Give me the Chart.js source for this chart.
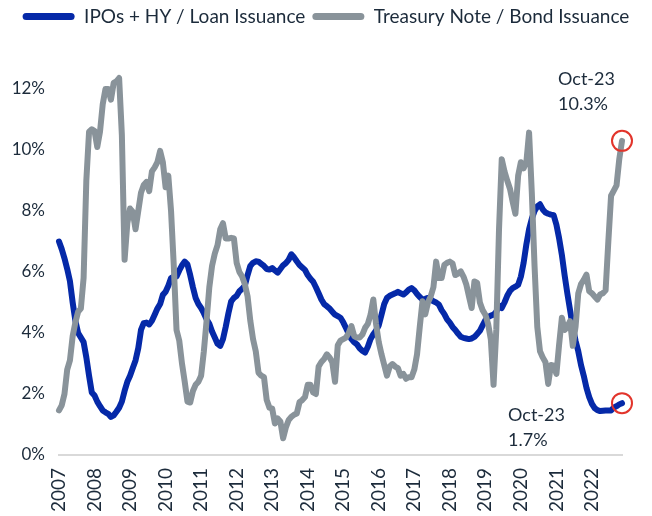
<!DOCTYPE html>
<html>
<head>
<meta charset="utf-8">
<title>Issuance</title>
<script src="https://cdn.jsdelivr.net/npm/chart.js@4.4.0/dist/chart.umd.min.js"></script>
<style>
  html, body { margin: 0; padding: 0; background: #fff; }
  #wrap { width: 652px; height: 516px; }
</style>
</head>
<body>
<div id="wrap"><canvas id="chart" width="652" height="516"></canvas></div>
<script>
// Year labels shown on the x axis (one every 13 points, as in the source chart)
const yearLabels = ['2007', '2008', '2009', '2010', '2011', '2012', '2013', '2014',
  '2015', '2016', '2017', '2018', '2019', '2020', '2021', '2022'];
const labelEvery = 13;

// IPOs + HY / Loan Issuance (%)
const ipoHy = [
  7.0, 6.75, 6.45, 6.1, 5.7, 5.0, 4.4, 4.0, 3.85, 3.7,
  3.2, 2.6, 2.05, 1.95, 1.75, 1.6, 1.46, 1.4, 1.35, 1.25,
  1.3, 1.42, 1.55, 1.75, 2.1, 2.4, 2.6, 2.85, 3.1, 3.5,
  4.1, 4.32, 4.34, 4.28, 4.4, 4.6, 4.8, 4.95, 5.25, 5.35,
  5.55, 5.8, 5.85, 5.85, 6.05, 6.22, 6.34, 6.25, 5.9, 5.5,
  5.15, 4.95, 4.82, 4.65, 4.45, 4.3, 4.05, 3.85, 3.65, 3.58,
  3.8, 4.2, 4.65, 5.04, 5.15, 5.22, 5.37, 5.45, 5.55, 5.9,
  6.2, 6.3, 6.35, 6.34, 6.27, 6.2, 6.1, 6.08, 6.13, 6.05,
  5.98, 6.1, 6.22, 6.29, 6.4, 6.58, 6.48, 6.35, 6.23, 6.15,
  6.07, 5.9, 5.78, 5.68, 5.5, 5.3, 5.1, 4.95, 4.88, 4.8,
  4.7, 4.6, 4.55, 4.5, 4.35, 4.17, 3.98, 3.8, 3.7, 3.63,
  3.5, 3.42, 3.36, 3.55, 3.8, 3.96, 4.08, 4.25, 4.6, 4.95,
  5.15, 5.22, 5.26, 5.3, 5.35, 5.3, 5.26, 5.33, 5.42, 5.47,
  5.4, 5.28, 5.18, 5.1, 5.12, 5.15, 5.1, 5.04, 5.0, 4.93,
  4.75, 4.62, 4.45, 4.34, 4.2, 4.1, 3.98, 3.88, 3.84, 3.82,
  3.8, 3.82, 3.87, 3.97, 4.07, 4.25, 4.42, 4.52, 4.57, 4.6,
  4.7, 4.9, 4.82, 5.0, 5.22, 5.38, 5.47, 5.52, 5.58, 5.85,
  6.3, 6.9, 7.4, 7.75, 8.0, 8.15, 8.22, 8.05, 7.95, 7.91,
  7.88, 7.86, 7.55, 7.1, 6.56, 5.9, 5.3, 4.75, 4.2, 3.75,
  3.4, 2.95, 2.6, 2.2, 1.9, 1.68, 1.54, 1.47, 1.44, 1.45,
  1.46, 1.46, 1.46, 1.55, 1.6, 1.66, 1.7
];

// Treasury Note / Bond Issuance (%)
const treasury = [
  1.46, 1.63, 2.0, 2.8, 3.1, 3.9, 4.35, 4.7, 4.8, 5.8,
  9.0, 10.6, 10.68, 10.62, 10.1, 10.6, 11.5, 12.0, 12.0, 11.65,
  12.2, 12.25, 12.36, 10.5, 6.4, 7.6, 8.08, 7.97, 7.4, 8.0,
  8.6, 8.85, 8.95, 8.65, 9.3, 9.43, 9.6, 9.97, 9.6, 8.78,
  9.16, 8.0, 6.2, 4.1, 3.75, 3.0, 2.4, 1.75, 1.72, 2.1,
  2.3, 2.4, 2.6, 3.4, 4.4, 5.5, 6.2, 6.6, 6.88, 7.4,
  7.6, 7.1, 7.1, 7.12, 7.1, 6.3, 6.0, 5.85, 5.6, 5.2,
  4.4, 3.8, 3.4, 2.7, 2.6, 2.55, 1.8, 1.55, 1.52, 1.03,
  1.2, 1.1, 0.55, 0.9, 1.14, 1.25, 1.32, 1.36, 1.73, 1.8,
  1.9, 2.3, 2.3, 2.05, 2.0, 2.9, 3.05, 3.15, 3.3, 3.2,
  3.04, 2.4, 3.6, 3.75, 3.8, 3.85, 4.0, 4.23, 3.9, 3.85,
  3.85, 3.95, 4.17, 4.3, 4.6, 5.1, 4.3, 3.7, 3.3, 2.95,
  2.6, 2.9, 2.98, 2.9, 2.85, 2.6, 2.66, 2.5, 2.55, 2.55,
  2.8, 3.3, 4.2, 5.04, 4.61, 5.0, 5.2, 5.5, 6.34, 5.8,
  5.8, 6.23, 6.3, 6.34, 6.28, 5.9, 5.95, 6.02, 5.85, 5.6,
  5.2, 4.82, 5.69, 5.64, 5.0, 4.75, 4.6, 4.3, 3.8, 2.3,
  4.1, 7.4, 9.7, 9.3, 9.0, 8.73, 8.3, 7.91, 9.16, 9.6,
  9.4, 9.6, 10.57, 8.6, 6.2, 4.2, 3.4, 3.2, 3.04, 2.33,
  2.95, 2.93, 2.66, 3.63, 4.5, 4.1, 4.2, 4.39, 3.58, 4.2,
  5.3, 5.6, 5.74, 5.91, 5.37, 5.3, 5.2, 5.1, 5.26, 5.3,
  5.4, 7.0, 8.5, 8.67, 8.84, 9.7, 10.3
];

const lastLabel = 'Oct-23';

const FONT = 'Lato, "Open Sans", sans-serif';
const TEXT = '#1c2b3b';
const BLUE = '#0529a8';
const GREY = '#89939a';
const RED = '#e2342b';

const xLabels = ipoHy.map((v, i) => i);
const lastIdx = ipoHy.length - 1;

// red ring only on the latest point
const ringRadius = (ctx) => ctx.dataIndex === lastIdx ? 10 : 0;

// push the plot area down below the legend
const legendSpace = {
  id: 'legendSpace',
  beforeInit(chart) {
    const origFit = chart.legend.fit;
    chart.legend.fit = function () {
      origFit.bind(chart.legend)();
      this.height += 53;
    };
  }
};

// "Oct-23 / value" callouts next to the last points
const callouts = {
  id: 'callouts',
  afterDatasetsDraw(chart) {
    const c = chart.ctx;
    c.save();
    c.font = '18px ' + FONT;
    c.fillStyle = TEXT;
    c.textAlign = 'left';
    c.textBaseline = 'middle';
    const tPt = chart.getDatasetMeta(1).data[lastIdx];
    const bPt = chart.getDatasetMeta(0).data[lastIdx];
    const tVal = treasury[lastIdx].toFixed(1) + '%';
    const bVal = ipoHy[lastIdx].toFixed(1) + '%';
    c.fillText(lastLabel, tPt.x - 64, tPt.y - 62);
    c.fillText(tVal, tPt.x - 64, tPt.y - 37);
    c.fillText(lastLabel, bPt.x - 114, bPt.y + 12);
    c.fillText(bVal, bPt.x - 114, bPt.y + 37);
    c.restore();
  }
};

new Chart(document.getElementById('chart'), {
  type: 'line',
  data: {
    labels: xLabels,
    datasets: [{
      label: 'IPOs + HY / Loan Issuance',
      data: ipoHy,
      borderColor: BLUE,
      backgroundColor: BLUE,
      borderWidth: 6,
      order: 1,
      tension: 0,
      clip: false,
      borderJoinStyle: 'round',
      borderCapStyle: 'round',
      pointRadius: ringRadius,
      pointBorderColor: RED,
      pointBackgroundColor: 'rgba(0,0,0,0)',
      pointBorderWidth: 2
    }, {
      label: 'Treasury Note / Bond Issuance',
      data: treasury,
      borderColor: GREY,
      backgroundColor: GREY,
      borderWidth: 6,
      order: 0,
      tension: 0,
      clip: false,
      borderJoinStyle: 'round',
      borderCapStyle: 'round',
      pointRadius: ringRadius,
      pointBorderColor: RED,
      pointBackgroundColor: 'rgba(0,0,0,0)',
      pointBorderWidth: 2
    }]
  },
  options: {
    responsive: false,
    animation: false,
    layout: { padding: 0 },
    plugins: {
      tooltip: { enabled: false },
      legend: {
        position: 'top',
        align: 'center',
        labels: {
          color: TEXT,
          font: { family: FONT, size: 19 },
          boxWidth: 52,
          boxHeight: 7,
          useBorderRadius: true,
          borderRadius: 3.5,
          padding: 7,
          sort: (a, b) => a.datasetIndex - b.datasetIndex,
          generateLabels: (chart) =>
            Chart.defaults.plugins.legend.labels.generateLabels(chart)
              .map(l => Object.assign(l, { lineWidth: 0 }))
        }
      }
    },
    scales: {
      x: {
        type: 'category',
        offset: false,
        grid: { display: false, drawTicks: false },
        border: { display: true, color: '#d9d9d9', width: 2 },
        afterFit: (scale) => {
          scale.height = 61;
          scale.paddingLeft = 0;
          scale.paddingRight = 0;
        },
        ticks: {
          autoSkip: false,
          minRotation: 90,
          maxRotation: 90,
          padding: 13,
          color: TEXT,
          font: { family: FONT, size: 19 },
          callback: (val, i) => i % labelEvery === 0 ? (yearLabels[i / labelEvery] || '') : ''
        }
      },
      y: {
        min: 0,
        max: 12,
        grid: { display: false, drawTicks: false },
        border: { display: false },
        afterFit: (scale) => { scale.width = 59; },
        ticks: {
          stepSize: 2,
          padding: 14,
          color: TEXT,
          font: { family: FONT, size: 17 },
          callback: (v) => v + '%'
        }
      },
      // empty right-hand strip so the plot ends where the source plot ends
      yRight: {
        position: 'right',
        display: true,
        grid: { display: false, drawTicks: false },
        border: { display: false },
        ticks: { display: false },
        afterFit: (scale) => { scale.width = 30; }
      }
    }
  },
  plugins: [legendSpace, callouts]
});
</script>
</body>
</html>
